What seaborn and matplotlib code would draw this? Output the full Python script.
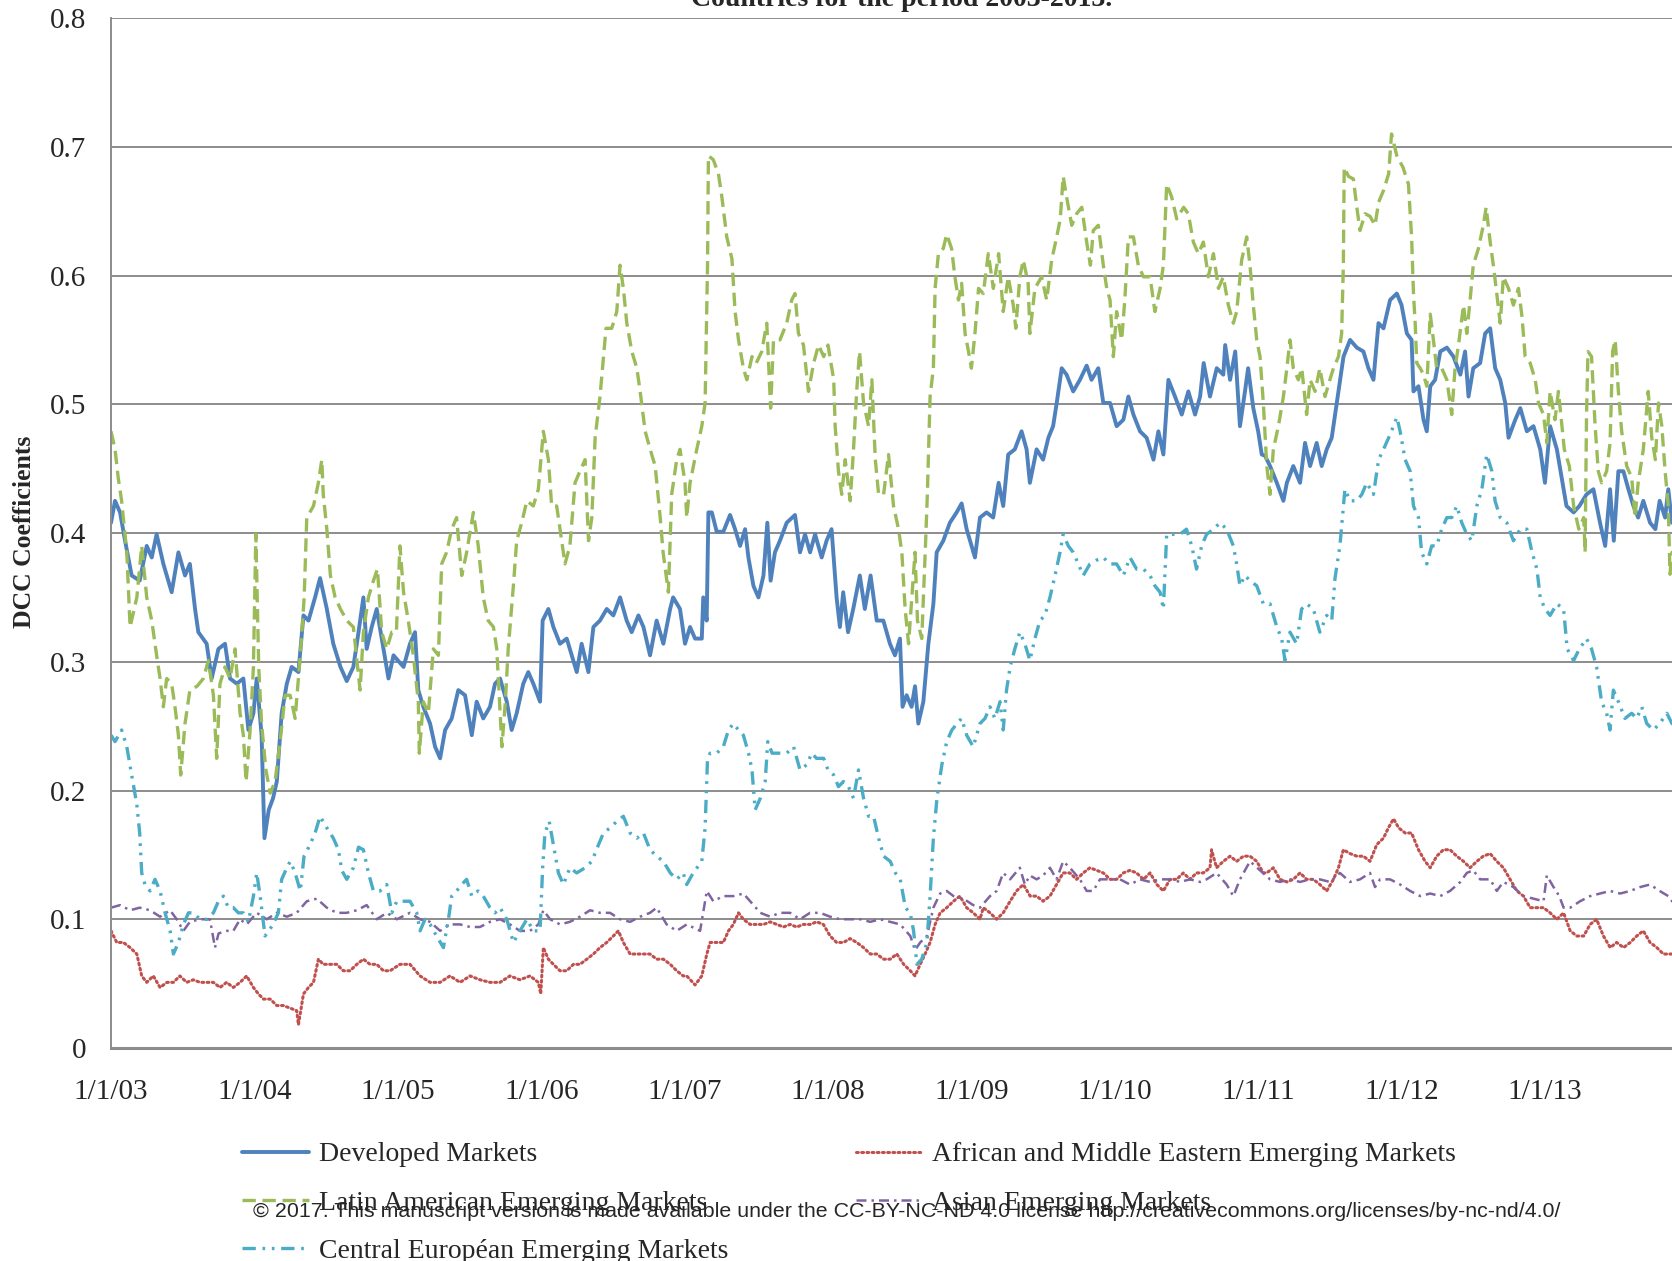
import numpy as np
import pandas as pd
import matplotlib
matplotlib.use("Agg")
import matplotlib.pyplot as plt
import seaborn as sns

# DCC coefficients
# time in years after 1/1/2003, value = DCC coefficient

dev_t = [0.0, 0.028, 0.063, 0.098, 0.144, 0.2, 0.249, 0.284, 0.318, 0.365, 0.423, 0.47, 0.516, 0.55, 0.586, 0.609,
         0.667, 0.702, 0.749, 0.795, 0.83, 0.877, 0.923, 0.958, 0.993, 1.016, 1.05, 1.07, 1.1, 1.13, 1.156, 1.19,
         1.226, 1.26, 1.307, 1.342, 1.377, 1.423, 1.458, 1.505, 1.55, 1.6, 1.644, 1.69, 1.726, 1.76, 1.783, 1.818,
         1.853, 1.888, 1.935, 1.97, 2.04, 2.085, 2.12, 2.143, 2.178, 2.225, 2.26, 2.295, 2.33, 2.376, 2.422, 2.469,
         2.516, 2.55, 2.596, 2.643, 2.678, 2.713, 2.76, 2.794, 2.829, 2.875, 2.91, 2.945, 2.992, 3.01, 3.05, 3.085,
         3.131, 3.178, 3.213, 3.248, 3.282, 3.329, 3.364, 3.41, 3.457, 3.503, 3.55, 3.596, 3.631, 3.678, 3.713,
         3.759, 3.805, 3.852, 3.899, 3.92, 3.968, 4.003, 4.038, 4.073, 4.12, 4.13, 4.154, 4.166, 4.19, 4.224, 4.27,
         4.317, 4.352, 4.387, 4.422, 4.445, 4.48, 4.515, 4.55, 4.577, 4.6, 4.63, 4.665, 4.712, 4.77, 4.805, 4.84,
         4.875, 4.91, 4.956, 4.99, 5.025, 5.06, 5.083, 5.106, 5.14, 5.176, 5.222, 5.257, 5.297, 5.34, 5.386, 5.432,
         5.467, 5.502, 5.52, 5.548, 5.583, 5.607, 5.63, 5.665, 5.7, 5.735, 5.758, 5.804, 5.85, 5.897, 5.932, 5.967,
         6.025, 6.06, 6.106, 6.152, 6.19, 6.222, 6.257, 6.303, 6.35, 6.385, 6.408, 6.455, 6.5, 6.537, 6.57, 6.595,
         6.63, 6.664, 6.71, 6.757, 6.804, 6.838, 6.885, 6.92, 6.967, 7.013, 7.06, 7.095, 7.13, 7.176, 7.222, 7.27,
         7.304, 7.339, 7.374, 7.42, 7.467, 7.513, 7.56, 7.595, 7.62, 7.664, 7.711, 7.757, 7.77, 7.804, 7.84, 7.873,
         7.908, 7.93, 7.966, 8.0, 8.025, 8.048, 8.083, 8.13, 8.176, 8.2, 8.245, 8.292, 8.327, 8.362, 8.408, 8.443,
         8.478, 8.513, 8.548, 8.595, 8.641, 8.688, 8.734, 8.769, 8.804, 8.839, 8.874, 8.92, 8.967, 9.0, 9.037, 9.07,
         9.083, 9.118, 9.153, 9.176, 9.2, 9.234, 9.27, 9.316, 9.362, 9.41, 9.443, 9.467, 9.5, 9.548, 9.583, 9.618,
         9.653, 9.688, 9.723, 9.746, 9.793, 9.828, 9.874, 9.92, 9.967, 10.0, 10.036, 10.083, 10.15, 10.2, 10.24,
         10.29, 10.338, 10.384, 10.42, 10.454, 10.48, 10.512, 10.547, 10.582, 10.617, 10.65, 10.686, 10.733, 10.77,
         10.8, 10.838, 10.86, 10.886, 10.95]
dev_v = [0.408, 0.425, 0.416, 0.394, 0.367, 0.363, 0.39, 0.381, 0.399, 0.376, 0.354, 0.385, 0.367, 0.376, 0.341, 0.323,
         0.314, 0.287, 0.31, 0.314, 0.287, 0.283, 0.287, 0.247, 0.26, 0.287, 0.243, 0.163, 0.185, 0.194, 0.207, 0.26,
         0.283, 0.296, 0.292, 0.336, 0.332, 0.35, 0.365, 0.341, 0.314, 0.296, 0.285, 0.296, 0.323, 0.35, 0.31, 0.327,
         0.341, 0.318, 0.287, 0.305, 0.296, 0.314, 0.323, 0.278, 0.265, 0.252, 0.234, 0.225, 0.247, 0.256, 0.278, 0.274,
         0.243, 0.269, 0.256, 0.265, 0.283, 0.287, 0.269, 0.247, 0.26, 0.283, 0.292, 0.283, 0.269, 0.332, 0.341, 0.327,
         0.314, 0.318, 0.305, 0.292, 0.314, 0.292, 0.327, 0.332, 0.341, 0.336, 0.35, 0.332, 0.323, 0.336, 0.327,
         0.305, 0.332, 0.314, 0.341, 0.35, 0.341, 0.314, 0.327, 0.318, 0.318, 0.35, 0.332, 0.416, 0.416, 0.401, 0.401,
         0.414, 0.403, 0.39, 0.403, 0.381, 0.359, 0.35, 0.367, 0.408, 0.363, 0.385, 0.394, 0.408, 0.414, 0.385, 0.399,
         0.385, 0.399, 0.381, 0.394, 0.403, 0.35, 0.327, 0.354, 0.323, 0.341, 0.367, 0.341, 0.367, 0.332, 0.332, 0.314,
         0.305, 0.318, 0.265, 0.274, 0.265, 0.281, 0.252, 0.269, 0.314, 0.345, 0.385, 0.394, 0.408, 0.416, 0.423, 0.403,
         0.381, 0.412, 0.416, 0.412, 0.439, 0.421, 0.461, 0.465, 0.479, 0.465, 0.439, 0.465, 0.457, 0.474, 0.483, 0.501,
         0.528, 0.523, 0.51, 0.519, 0.53, 0.519, 0.528, 0.501, 0.501, 0.483, 0.488, 0.506, 0.492, 0.479, 0.474, 0.457,
         0.479, 0.461, 0.519, 0.506, 0.492, 0.51, 0.492, 0.506, 0.532, 0.506, 0.528, 0.523, 0.546, 0.519, 0.541, 0.483,
         0.51, 0.528, 0.497, 0.479, 0.461, 0.46, 0.452, 0.439, 0.425, 0.439, 0.452, 0.439, 0.47, 0.452, 0.47, 0.452,
         0.465, 0.474, 0.501, 0.537, 0.55, 0.544, 0.541, 0.528, 0.519, 0.563, 0.559, 0.581, 0.586, 0.577, 0.555, 0.55,
         0.51, 0.514, 0.488, 0.479, 0.514, 0.519, 0.541, 0.544, 0.537, 0.523, 0.541, 0.506, 0.528, 0.532, 0.555, 0.559,
         0.528, 0.519, 0.501, 0.474, 0.488, 0.497, 0.479, 0.483, 0.465, 0.439, 0.483, 0.465, 0.421, 0.416, 0.421,
         0.43, 0.434, 0.408, 0.39, 0.434, 0.394, 0.448, 0.448, 0.434, 0.421, 0.412, 0.425, 0.408, 0.403,
         0.425, 0.412, 0.434, 0.408, 0.41]

lat_t = [0.0, 0.028, 0.05, 0.074, 0.11, 0.133, 0.18, 0.214, 0.249, 0.284, 0.318, 0.342, 0.365, 0.388, 0.423, 0.446,
         0.47, 0.486, 0.516, 0.55, 0.6, 0.644, 0.679, 0.714, 0.737, 0.76, 0.795, 0.83, 0.865, 0.9, 0.923, 0.942, 0.97,
         0.993, 1.01, 1.03, 1.05, 1.08, 1.11, 1.144, 1.179, 1.214, 1.249, 1.284, 1.32, 1.347, 1.365, 1.412, 1.446,
         1.47, 1.48, 1.505, 1.53, 1.563, 1.6, 1.644, 1.69, 1.737, 1.76, 1.795, 1.83, 1.858, 1.888, 1.923, 1.958, 1.99,
         2.015, 2.04, 2.073, 2.108, 2.143, 2.15, 2.178, 2.213, 2.248, 2.283, 2.306, 2.34, 2.376, 2.41, 2.446, 2.48,
         2.527, 2.561, 2.596, 2.63, 2.667, 2.69, 2.726, 2.75, 2.77, 2.806, 2.829, 2.864, 2.9, 2.945, 2.98, 3.015,
         3.05, 3.073, 3.108, 3.143, 3.166, 3.2, 3.236, 3.27, 3.306, 3.33, 3.353, 3.376, 3.41, 3.452, 3.492, 3.527,
         3.55, 3.573, 3.597, 3.632, 3.667, 3.69, 3.725, 3.76, 3.795, 3.83, 3.85, 3.887, 3.91, 3.945, 3.968, 4.003,
         4.015, 4.038, 4.085, 4.12, 4.143, 4.16, 4.166, 4.2, 4.236, 4.26, 4.294, 4.33, 4.352, 4.376, 4.41, 4.434,
         4.47, 4.5, 4.538, 4.573, 4.6, 4.62, 4.665, 4.712, 4.747, 4.77, 4.794, 4.829, 4.864, 4.9, 4.934, 4.97, 5.0,
         5.04, 5.05, 5.073, 5.096, 5.12, 5.155, 5.178, 5.2, 5.22, 5.248, 5.283, 5.306, 5.33, 5.353, 5.388, 5.422,
         5.457, 5.492, 5.515, 5.538, 5.562, 5.585, 5.607, 5.624, 5.654, 5.678, 5.693, 5.712, 5.735, 5.747, 5.77,
         5.804, 5.828, 5.862, 5.885, 5.91, 5.932, 5.956, 5.98, 6.0, 6.025, 6.05, 6.083, 6.118, 6.153, 6.19, 6.222,
         6.257, 6.292, 6.31, 6.338, 6.362, 6.396, 6.408, 6.443, 6.49, 6.525, 6.56, 6.595, 6.62, 6.64, 6.664, 6.7,
         6.734, 6.77, 6.804, 6.83, 6.85, 6.885, 6.92, 6.944, 6.967, 6.99, 7.013, 7.048, 7.07, 7.095, 7.13, 7.164,
         7.2, 7.246, 7.28, 7.316, 7.339, 7.362, 7.397, 7.432, 7.48, 7.513, 7.548, 7.583, 7.618, 7.652, 7.688, 7.723,
         7.757, 7.792, 7.827, 7.85, 7.885, 7.92, 7.943, 7.966, 7.99, 8.013, 8.036, 8.06, 8.083, 8.106, 8.141, 8.176,
         8.2, 8.222, 8.245, 8.28, 8.304, 8.338, 8.362, 8.397, 8.43, 8.466, 8.5, 8.525, 8.56, 8.582, 8.594, 8.6, 8.63,
         8.664, 8.688, 8.71, 8.746, 8.78, 8.815, 8.84, 8.874, 8.91, 8.93, 8.967, 9.01, 9.048, 9.07, 9.083, 9.095,
         9.106, 9.13, 9.153, 9.176, 9.2, 9.222, 9.245, 9.28, 9.316, 9.35, 9.373, 9.397, 9.432, 9.455, 9.478, 9.5,
         9.536, 9.57, 9.59, 9.618, 9.64, 9.664, 9.688, 9.71, 9.746, 9.78, 9.815, 9.84, 9.862, 9.897, 9.932, 9.955,
         9.99, 10.013, 10.036, 10.07, 10.094, 10.135, 10.17, 10.2, 10.236, 10.27, 10.28, 10.29, 10.3, 10.325, 10.35,
         10.372, 10.395, 10.43, 10.454, 10.472, 10.49, 10.512, 10.535, 10.57, 10.605, 10.628, 10.65, 10.686, 10.72,
         10.745, 10.77, 10.792, 10.815, 10.838, 10.86, 10.872, 10.886, 10.95]
lat_v = [0.479, 0.465, 0.443, 0.425, 0.385, 0.327, 0.35, 0.39, 0.35, 0.332, 0.305, 0.287, 0.265, 0.287, 0.283, 0.265,
         0.243, 0.212, 0.252, 0.278, 0.281, 0.287, 0.301, 0.274, 0.225, 0.283, 0.296, 0.287, 0.31, 0.26, 0.243, 0.207,
         0.247, 0.296, 0.399, 0.296, 0.252, 0.216, 0.198, 0.207, 0.238, 0.274, 0.274, 0.256, 0.305, 0.35, 0.412, 0.421,
         0.439, 0.457, 0.43, 0.403, 0.367, 0.35, 0.341, 0.332, 0.327, 0.278, 0.323, 0.35, 0.363, 0.372, 0.323, 0.31,
         0.323, 0.323, 0.39, 0.354, 0.332, 0.305, 0.269, 0.229, 0.269, 0.26, 0.31, 0.305, 0.376, 0.385, 0.403, 0.412,
         0.367, 0.385, 0.416, 0.39, 0.35, 0.332, 0.327, 0.31, 0.234, 0.269, 0.31, 0.359, 0.394, 0.408, 0.425, 0.421,
         0.434, 0.479, 0.457, 0.421, 0.421, 0.394, 0.376, 0.39, 0.439, 0.448, 0.457, 0.394, 0.412, 0.474, 0.506,
         0.559, 0.559, 0.572, 0.608, 0.59, 0.563, 0.541, 0.528, 0.51, 0.479, 0.465, 0.452, 0.412, 0.385, 0.354, 0.43,
         0.457, 0.465, 0.439, 0.412, 0.439, 0.465, 0.483, 0.501, 0.608, 0.693, 0.69, 0.679, 0.661, 0.63, 0.613, 0.572,
         0.55, 0.528, 0.519, 0.537, 0.532, 0.541, 0.563, 0.497, 0.55, 0.55, 0.563, 0.581, 0.586, 0.555, 0.546, 0.51,
         0.532, 0.546, 0.537, 0.546, 0.519, 0.483, 0.448, 0.43, 0.457, 0.425, 0.465, 0.51, 0.541, 0.501, 0.483, 0.519,
         0.457, 0.43, 0.43, 0.461, 0.421, 0.403, 0.385, 0.341, 0.314, 0.35, 0.385, 0.332, 0.318, 0.385, 0.43, 0.506,
         0.528, 0.59, 0.617, 0.621, 0.632, 0.621, 0.599, 0.581, 0.594, 0.555, 0.541, 0.528, 0.555, 0.59, 0.586, 0.617,
         0.59, 0.617, 0.572, 0.599, 0.577, 0.559, 0.599, 0.612, 0.594, 0.555, 0.59, 0.599, 0.581, 0.612, 0.63, 0.644,
         0.677, 0.661, 0.639, 0.648, 0.653, 0.626, 0.608, 0.635, 0.639, 0.608, 0.59, 0.581, 0.537, 0.572, 0.55, 0.581,
         0.63, 0.63, 0.608, 0.599, 0.599, 0.572, 0.59, 0.608, 0.671, 0.661, 0.644, 0.653, 0.648, 0.626, 0.617, 0.626,
         0.599, 0.617, 0.59, 0.599, 0.577, 0.563, 0.572, 0.612, 0.63, 0.608, 0.577, 0.55, 0.537, 0.501, 0.452, 0.43,
         0.465, 0.483, 0.506, 0.528, 0.55, 0.528, 0.519, 0.528, 0.492, 0.519, 0.51, 0.528, 0.506, 0.519, 0.528, 0.537,
         0.555, 0.608, 0.684, 0.677, 0.675, 0.653, 0.635, 0.648, 0.646, 0.639, 0.657, 0.666, 0.679, 0.71, 0.693,
         0.684, 0.671, 0.63, 0.586, 0.563, 0.532, 0.528, 0.523, 0.514, 0.57, 0.55, 0.528, 0.528, 0.519, 0.492, 0.528,
         0.546, 0.577, 0.555, 0.581, 0.608, 0.621, 0.639, 0.653, 0.626, 0.608, 0.586, 0.563, 0.599, 0.59, 0.577, 0.59,
         0.568, 0.537, 0.532, 0.519, 0.501, 0.492, 0.47, 0.51, 0.488, 0.51, 0.465, 0.452, 0.421, 0.403, 0.412, 0.385,
         0.492, 0.541, 0.537, 0.483, 0.448, 0.439, 0.448, 0.47, 0.541, 0.55, 0.51, 0.479, 0.452, 0.443, 0.412, 0.439,
         0.465, 0.51, 0.474, 0.457, 0.501, 0.483, 0.448, 0.421, 0.368, 0.385, 0.38]

cee_t = [0.0, 0.028, 0.074, 0.11, 0.144, 0.18, 0.2, 0.214, 0.237, 0.272, 0.307, 0.342, 0.377, 0.412, 0.435, 0.47,
         0.505, 0.54, 0.574, 0.62, 0.667, 0.714, 0.749, 0.784, 0.818, 0.853, 0.888, 0.923, 0.958, 0.993, 1.016, 1.04,
         1.074, 1.1, 1.13, 1.167, 1.19, 1.226, 1.25, 1.284, 1.32, 1.346, 1.388, 1.423, 1.458, 1.505, 1.55, 1.586,
         1.609, 1.644, 1.69, 1.726, 1.76, 1.795, 1.83, 1.876, 1.923, 1.958, 1.993, 2.04, 2.085, 2.132, 2.155, 2.19,
         2.225, 2.27, 2.318, 2.353, 2.376, 2.41, 2.446, 2.48, 2.516, 2.56, 2.596, 2.643, 2.678, 2.713, 2.76, 2.806,
         2.852, 2.9, 2.945, 2.992, 3.01, 3.026, 3.056, 3.085, 3.12, 3.155, 3.2, 3.248, 3.306, 3.353, 3.4, 3.434,
         3.48, 3.527, 3.573, 3.62, 3.667, 3.713, 3.759, 3.805, 3.852, 3.9, 3.945, 3.99, 4.015, 4.06, 4.12, 4.143,
         4.16, 4.178, 4.224, 4.27, 4.306, 4.34, 4.376, 4.41, 4.446, 4.47, 4.492, 4.528, 4.562, 4.58, 4.61, 4.656,
         4.712, 4.76, 4.805, 4.852, 4.887, 4.92, 4.97, 5.0, 5.04, 5.073, 5.108, 5.143, 5.178, 5.213, 5.248, 5.283,
         5.318, 5.353, 5.388, 5.434, 5.47, 5.504, 5.54, 5.573, 5.597, 5.62, 5.654, 5.69, 5.712, 5.735, 5.76, 5.794,
         5.828, 5.864, 5.9, 5.932, 5.967, 6.013, 6.06, 6.095, 6.13, 6.164, 6.2, 6.222, 6.245, 6.27, 6.303, 6.338,
         6.373, 6.408, 6.443, 6.478, 6.513, 6.548, 6.583, 6.618, 6.64, 6.676, 6.71, 6.746, 6.78, 6.827, 6.874, 6.92,
         6.967, 7.013, 7.06, 7.106, 7.152, 7.2, 7.246, 7.28, 7.316, 7.339, 7.362, 7.41, 7.455, 7.5, 7.537, 7.57,
         7.606, 7.64, 7.688, 7.734, 7.78, 7.827, 7.85, 7.873, 7.908, 7.943, 7.99, 8.036, 8.083, 8.13, 8.164, 8.187,
         8.222, 8.268, 8.303, 8.338, 8.385, 8.43, 8.478, 8.513, 8.536, 8.57, 8.605, 8.641, 8.688, 8.723, 8.757, 8.804,
         8.84, 8.874, 8.91, 8.944, 8.967, 8.99, 9.025, 9.06, 9.083, 9.118, 9.14, 9.176, 9.21, 9.245, 9.28, 9.316,
         9.35, 9.385, 9.42, 9.455, 9.49, 9.525, 9.56, 9.594, 9.63, 9.652, 9.688, 9.734, 9.78, 9.828, 9.874, 9.91,
         9.944, 9.967, 10.0, 10.036, 10.083, 10.13, 10.155, 10.2, 10.24, 10.29, 10.325, 10.36, 10.395, 10.43, 10.454,
         10.477, 10.512, 10.558, 10.605, 10.64, 10.675, 10.71, 10.756, 10.8, 10.85, 10.886, 10.95]
cee_v = [0.243, 0.238, 0.247, 0.234, 0.212, 0.189, 0.167, 0.136, 0.127, 0.122, 0.131, 0.122, 0.105, 0.091, 0.073, 0.082,
         0.096, 0.105, 0.105, 0.1, 0.1, 0.105, 0.114, 0.118, 0.109, 0.109, 0.105, 0.105, 0.098, 0.118, 0.136, 0.118,
         0.087, 0.091, 0.096, 0.105, 0.131, 0.14, 0.145, 0.136, 0.122, 0.149, 0.158, 0.167, 0.18, 0.171, 0.163, 0.154,
         0.138, 0.131, 0.14, 0.156, 0.154, 0.136, 0.122, 0.122, 0.127, 0.105, 0.114, 0.114, 0.114, 0.105, 0.091, 0.1,
         0.096, 0.087, 0.078, 0.1, 0.118, 0.122, 0.127, 0.131, 0.118, 0.122, 0.118, 0.109, 0.105, 0.109, 0.1, 0.082,
         0.091, 0.1, 0.091, 0.091, 0.14, 0.167, 0.176, 0.158, 0.136, 0.127, 0.14, 0.136, 0.14, 0.145, 0.158, 0.167,
         0.171, 0.176, 0.18, 0.167, 0.163, 0.167, 0.154, 0.149, 0.145, 0.136, 0.131, 0.136, 0.127, 0.136, 0.145, 0.171,
         0.225, 0.229, 0.229, 0.234, 0.247, 0.252, 0.247, 0.243, 0.229, 0.216, 0.185, 0.194, 0.207, 0.238, 0.229, 0.229,
         0.229, 0.234, 0.216, 0.22, 0.229, 0.225, 0.225, 0.216, 0.212, 0.203, 0.207, 0.203, 0.194, 0.216, 0.194, 0.18,
         0.18, 0.163, 0.149, 0.145, 0.136, 0.131, 0.109, 0.105, 0.091, 0.065, 0.069, 0.082, 0.118, 0.163, 0.194, 0.22,
         0.238, 0.247, 0.252, 0.256, 0.243, 0.234, 0.252, 0.256, 0.265, 0.256, 0.269, 0.247, 0.278, 0.296, 0.31, 0.323,
         0.314, 0.301, 0.318, 0.332, 0.336, 0.35, 0.367, 0.385, 0.399, 0.39, 0.385, 0.376, 0.367, 0.376, 0.379, 0.381,
         0.376, 0.376, 0.367, 0.381, 0.372, 0.372, 0.367, 0.359, 0.354, 0.341, 0.399, 0.399, 0.399, 0.403, 0.39, 0.372,
         0.39, 0.399, 0.403, 0.408, 0.403, 0.39, 0.376, 0.359, 0.367, 0.363, 0.359, 0.345, 0.345, 0.327, 0.318, 0.301,
         0.323, 0.314, 0.341, 0.345, 0.341, 0.323, 0.336, 0.332, 0.365, 0.39, 0.434, 0.425, 0.425, 0.43, 0.439, 0.43,
         0.457, 0.465, 0.474, 0.483, 0.49, 0.479, 0.457, 0.448, 0.421, 0.412, 0.385, 0.376, 0.39, 0.39, 0.403, 0.412,
         0.412, 0.421, 0.408, 0.399, 0.394, 0.421, 0.434, 0.461, 0.448, 0.425, 0.412, 0.408, 0.394, 0.403, 0.403, 0.385,
         0.372, 0.35, 0.341, 0.336, 0.345, 0.341, 0.31, 0.301, 0.31, 0.318, 0.31, 0.296, 0.269, 0.26, 0.247,
         0.278, 0.269, 0.256, 0.26, 0.256, 0.265, 0.252, 0.247, 0.252, 0.26, 0.252, 0.25]

afr_t = [0.0, 0.04, 0.086, 0.133, 0.18, 0.214, 0.249, 0.295, 0.342, 0.39, 0.435, 0.48, 0.528, 0.574, 0.62, 0.667,
         0.714, 0.76, 0.806, 0.853, 0.9, 0.946, 0.993, 1.028, 1.063, 1.11, 1.156, 1.2, 1.249, 1.295, 1.307, 1.342,
         1.377, 1.412, 1.446, 1.48, 1.528, 1.574, 1.62, 1.667, 1.714, 1.76, 1.806, 1.853, 1.9, 1.946, 2.015, 2.085,
         2.155, 2.225, 2.295, 2.364, 2.434, 2.504, 2.573, 2.643, 2.713, 2.782, 2.852, 2.922, 2.98, 2.997, 3.015, 3.05,
         3.085, 3.131, 3.178, 3.225, 3.27, 3.318, 3.364, 3.41, 3.457, 3.503, 3.538, 3.573, 3.62, 3.667, 3.713, 3.759,
         3.805, 3.852, 3.9, 3.945, 3.99, 4.015, 4.073, 4.12, 4.155, 4.178, 4.224, 4.27, 4.306, 4.34, 4.376, 4.41,
         4.457, 4.503, 4.55, 4.597, 4.643, 4.689, 4.736, 4.782, 4.829, 4.875, 4.922, 4.968, 5.015, 5.06, 5.108, 5.155,
         5.2, 5.248, 5.295, 5.34, 5.388, 5.434, 5.48, 5.528, 5.574, 5.607, 5.643, 5.677, 5.712, 5.747, 5.782, 5.828,
         5.875, 5.92, 5.967, 6.013, 6.06, 6.083, 6.13, 6.176, 6.222, 6.27, 6.315, 6.362, 6.41, 6.455, 6.5, 6.548,
         6.594, 6.64, 6.687, 6.734, 6.78, 6.827, 6.874, 6.92, 6.967, 7.013, 7.06, 7.106, 7.152, 7.2, 7.246, 7.293,
         7.339, 7.385, 7.432, 7.478, 7.525, 7.57, 7.618, 7.664, 7.675, 7.71, 7.757, 7.804, 7.85, 7.897, 7.943, 7.99,
         8.036, 8.06, 8.106, 8.152, 8.2, 8.245, 8.292, 8.338, 8.385, 8.43, 8.478, 8.525, 8.56, 8.594, 8.641, 8.688,
         8.734, 8.78, 8.827, 8.874, 8.908, 8.944, 8.98, 9.025, 9.07, 9.118, 9.164, 9.2, 9.245, 9.292, 9.338, 9.385,
         9.432, 9.478, 9.525, 9.57, 9.618, 9.664, 9.71, 9.757, 9.804, 9.85, 9.897, 9.944, 9.99, 10.036, 10.083, 10.13,
         10.176, 10.222, 10.27, 10.315, 10.36, 10.408, 10.455, 10.5, 10.548, 10.595, 10.64, 10.686, 10.733, 10.78,
         10.826, 10.886, 10.95]
afr_v = [0.091, 0.082, 0.082, 0.078, 0.073, 0.056, 0.051, 0.056, 0.047, 0.051, 0.051, 0.056, 0.051, 0.053, 0.051, 0.051,
         0.051, 0.047, 0.051, 0.047, 0.051, 0.056, 0.047, 0.042, 0.038, 0.038, 0.033, 0.033, 0.031, 0.029, 0.018, 0.042,
         0.047, 0.051, 0.069, 0.065, 0.065, 0.065, 0.06, 0.06, 0.065, 0.069, 0.065, 0.065, 0.06, 0.06, 0.065, 0.065,
         0.056, 0.051, 0.051, 0.056, 0.051, 0.056, 0.053, 0.051, 0.051, 0.056, 0.053, 0.056, 0.051, 0.042, 0.078, 0.069,
         0.065, 0.06, 0.06, 0.065, 0.065, 0.069, 0.073, 0.078, 0.082, 0.087, 0.091, 0.082, 0.073, 0.073, 0.073, 0.073,
         0.069, 0.069, 0.065, 0.06, 0.056, 0.056, 0.049, 0.056, 0.073, 0.082, 0.082, 0.082, 0.091, 0.096, 0.105, 0.1,
         0.096, 0.096, 0.096, 0.098, 0.096, 0.094, 0.096, 0.094, 0.096, 0.096, 0.098, 0.096, 0.087, 0.082, 0.082, 0.085,
         0.082, 0.078, 0.073, 0.073, 0.069, 0.069, 0.073, 0.065, 0.06, 0.056, 0.065, 0.073, 0.082, 0.096, 0.105, 0.109,
         0.114, 0.118, 0.109, 0.105, 0.1, 0.109, 0.105, 0.1, 0.105, 0.114, 0.122, 0.127, 0.118, 0.118, 0.114, 0.118,
         0.127, 0.136, 0.136, 0.131, 0.136, 0.14, 0.138, 0.136, 0.131, 0.131, 0.136, 0.138, 0.136, 0.131, 0.136, 0.127,
         0.122, 0.131, 0.131, 0.136, 0.131, 0.136, 0.136, 0.14, 0.154, 0.14, 0.145, 0.149, 0.145, 0.149, 0.149, 0.145,
         0.136, 0.136, 0.14, 0.131, 0.129, 0.131, 0.136, 0.131, 0.131, 0.127, 0.122, 0.131, 0.14, 0.154, 0.151, 0.149,
         0.149, 0.145, 0.158, 0.163, 0.171, 0.178, 0.171, 0.167, 0.167, 0.154, 0.145, 0.14, 0.149, 0.154, 0.154, 0.149,
         0.145, 0.14, 0.145, 0.149, 0.151, 0.145, 0.14, 0.131, 0.122, 0.118, 0.109, 0.109, 0.109, 0.105, 0.1, 0.105,
         0.091, 0.087, 0.087, 0.096, 0.1, 0.087, 0.078, 0.082, 0.078, 0.082, 0.087, 0.091, 0.082, 0.078,
         0.073, 0.073, 0.072]

asia_t = [0.0, 0.063, 0.133, 0.2, 0.272, 0.342, 0.412, 0.458, 0.505, 0.55, 0.62, 0.69, 0.725, 0.75, 0.806, 0.853,
          0.9, 0.946, 1.016, 1.086, 1.156, 1.226, 1.295, 1.365, 1.435, 1.505, 1.574, 1.644, 1.714, 1.783, 1.853,
          1.923, 1.993, 2.085, 2.155, 2.225, 2.295, 2.364, 2.434, 2.504, 2.573, 2.643, 2.713, 2.782, 2.852, 2.922,
          2.98, 3.015, 3.062, 3.131, 3.2, 3.27, 3.341, 3.41, 3.48, 3.55, 3.62, 3.69, 3.759, 3.805, 3.875, 3.945,
          4.015, 4.108, 4.155, 4.2, 4.27, 4.34, 4.41, 4.457, 4.528, 4.597, 4.665, 4.736, 4.805, 4.875, 4.945, 5.015,
          5.085, 5.155, 5.225, 5.295, 5.364, 5.434, 5.504, 5.574, 5.607, 5.643, 5.69, 5.735, 5.782, 5.828, 5.875,
          5.944, 6.013, 6.06, 6.13, 6.176, 6.222, 6.27, 6.338, 6.373, 6.408, 6.455, 6.5, 6.548, 6.594, 6.64, 6.687,
          6.757, 6.804, 6.85, 6.897, 6.967, 7.037, 7.106, 7.176, 7.246, 7.316, 7.385, 7.455, 7.525, 7.595, 7.64,
          7.71, 7.78, 7.827, 7.873, 7.943, 8.013, 8.083, 8.152, 8.222, 8.292, 8.362, 8.43, 8.5, 8.57, 8.641, 8.71,
          8.78, 8.815, 8.85, 8.92, 8.99, 9.06, 9.13, 9.2, 9.27, 9.338, 9.41, 9.455, 9.5, 9.548, 9.618, 9.664, 9.71,
          9.78, 9.85, 9.92, 9.99, 10.013, 10.06, 10.1, 10.13, 10.176, 10.245, 10.315, 10.384, 10.454, 10.524, 10.595,
          10.664, 10.733, 10.8, 10.86, 10.886, 10.95]
asia_v = [0.109, 0.111, 0.107, 0.109, 0.107, 0.102, 0.107, 0.1, 0.091, 0.098, 0.1, 0.1, 0.078, 0.089, 0.091, 0.091,
          0.1, 0.096, 0.105, 0.1, 0.105, 0.102, 0.105, 0.114, 0.116, 0.109, 0.105, 0.105, 0.107, 0.111, 0.1,
          0.105, 0.1, 0.105, 0.1, 0.098, 0.091, 0.096, 0.096, 0.094, 0.094, 0.098, 0.1, 0.096, 0.091, 0.091,
          0.096, 0.107, 0.1, 0.096, 0.098, 0.102, 0.107, 0.105, 0.105, 0.1, 0.098, 0.102, 0.105, 0.109, 0.096, 0.091,
          0.096, 0.091, 0.122, 0.114, 0.118, 0.118, 0.12, 0.114, 0.105, 0.102, 0.105, 0.105, 0.1, 0.105, 0.105, 0.102,
          0.1, 0.1, 0.1, 0.098, 0.1, 0.098, 0.096, 0.087, 0.076, 0.082, 0.087, 0.109, 0.12, 0.122, 0.118,
          0.116, 0.111, 0.109, 0.118, 0.122, 0.136, 0.131, 0.14, 0.127, 0.134, 0.131, 0.134, 0.14, 0.131, 0.145, 0.14,
          0.131, 0.122, 0.122, 0.131, 0.131, 0.131, 0.127, 0.131, 0.129, 0.131, 0.131, 0.129, 0.131, 0.129, 0.131,
          0.136, 0.127, 0.118, 0.131, 0.145, 0.138, 0.131, 0.129, 0.131, 0.129, 0.131, 0.131, 0.129, 0.136, 0.129, 0.131,
          0.136, 0.125, 0.131, 0.131, 0.127, 0.122, 0.118, 0.12, 0.118, 0.122, 0.129, 0.136, 0.138, 0.131, 0.131, 0.122, 0.129,
          0.125, 0.118, 0.116, 0.114, 0.134, 0.125, 0.118, 0.109, 0.109, 0.114, 0.118, 0.12, 0.122, 0.12, 0.122,
          0.125, 0.127, 0.122, 0.118, 0.114, 0.113]

year_ticks = ["1/1/03", "1/1/04", "1/1/05", "1/1/06", "1/1/07", "1/1/08",
              "1/1/09", "1/1/10", "1/1/11", "1/1/12", "1/1/13"]

start = pd.Timestamp("2003-01-01")


def to_dates(t):
    return start + pd.to_timedelta(np.asarray(t) * 365.25, unit="D")


sns.set_theme(style="white")
plt.rcParams["font.family"] = ["Liberation Serif", "DejaVu Serif"]

fig = plt.figure(figsize=(16.72, 12.61), dpi=100)
ax = fig.add_axes([0.0664, 0.1689, 0.9336, 0.8168])

series = [
    ("Developed Markets", dev_t, dev_v, "#4F81BD", 2.8, "-"),
    ("African and Middle Eastern Emerging Markets", afr_t, afr_v, "#C0504D", 2.2, (0, (0.6, 1.1))),
    ("Latin American Emerging Markets", lat_t, lat_v, "#9BBB59", 2.4, (0, (4, 2))),
    ("Asian Emerging Markets", asia_t, asia_v, "#8064A2", 1.8, (0, (4, 2, 1, 2))),
    ("Central Européan Emerging Markets", cee_t, cee_v, "#4BACC6", 2.4, (0, (4, 2, 0.8, 2, 0.8, 2))),
]

handles = {}
for name, t, v, color, lw, ls in series:
    df = pd.DataFrame({"date": to_dates(t), "dcc": v})
    sns.lineplot(data=df, x="date", y="dcc", ax=ax, color=color, lw=lw, estimator=None, legend=False)
    line = ax.lines[-1]
    line.set_linestyle(ls)
    if name.startswith("African"):
        line.set_dash_capstyle("round")
    handles[name] = line

ax.set_ylim(0, 0.8)
ax.set_xlim(start, to_dates([10.886])[0])
ax.set_yticks(np.arange(0, 0.81, 0.1))
ax.set_yticklabels(["0", "0.1", "0.2", "0.3", "0.4", "0.5", "0.6", "0.7", "0.8"], fontsize=21)
ax.set_xticks(to_dates(np.arange(0, 11)))
ax.set_xticklabels(year_ticks, fontsize=21)
ax.tick_params(axis="both", length=0)
ax.tick_params(axis="y", pad=18)
ax.tick_params(axis="x", pad=22)
ax.yaxis.grid(True, color="#8c8c8c", lw=1.4)
ax.xaxis.grid(False)
for side in ["top", "right"]:
    ax.spines[side].set_visible(False)
ax.spines["left"].set_color("#8c8c8c")
ax.spines["left"].set_linewidth(1.4)
ax.spines["bottom"].set_color("#8c8c8c")
ax.spines["bottom"].set_linewidth(2.2)
ax.set_xlabel("")
ax.set_ylabel("")

fig.text(0.0145, 0.578, "DCC Coefficients", rotation=90, fontsize=18.5, fontweight="bold",
         ha="center", va="center")
fig.text(0.539, 0.9952, "Countries for the period 2003-2013.", fontsize=20, fontweight="bold",
         ha="center", va="baseline")

order = ["Developed Markets", "Latin American Emerging Markets", "Central Européan Emerging Markets",
         "African and Middle Eastern Emerging Markets", "Asian Emerging Markets"]
fig.legend([handles[k] for k in order], order, loc="upper left", bbox_to_anchor=(0.145, 0.0945),
           ncol=2, frameon=False, fontsize=20, handlelength=2.4, handletextpad=0.35,
           columnspacing=4.6, labelspacing=0.82, borderpad=0, borderaxespad=0)

fig.text(0.5425, 0.0395, "© 2017. This manuscript version is made available under the CC-BY-NC-ND 4.0 license "
         "http://creativecommons.org/licenses/by-nc-nd/4.0/", fontsize=15.4, family="Liberation Sans",
         ha="center", va="center", zorder=10)

fig.savefig("out.png", dpi=100)
